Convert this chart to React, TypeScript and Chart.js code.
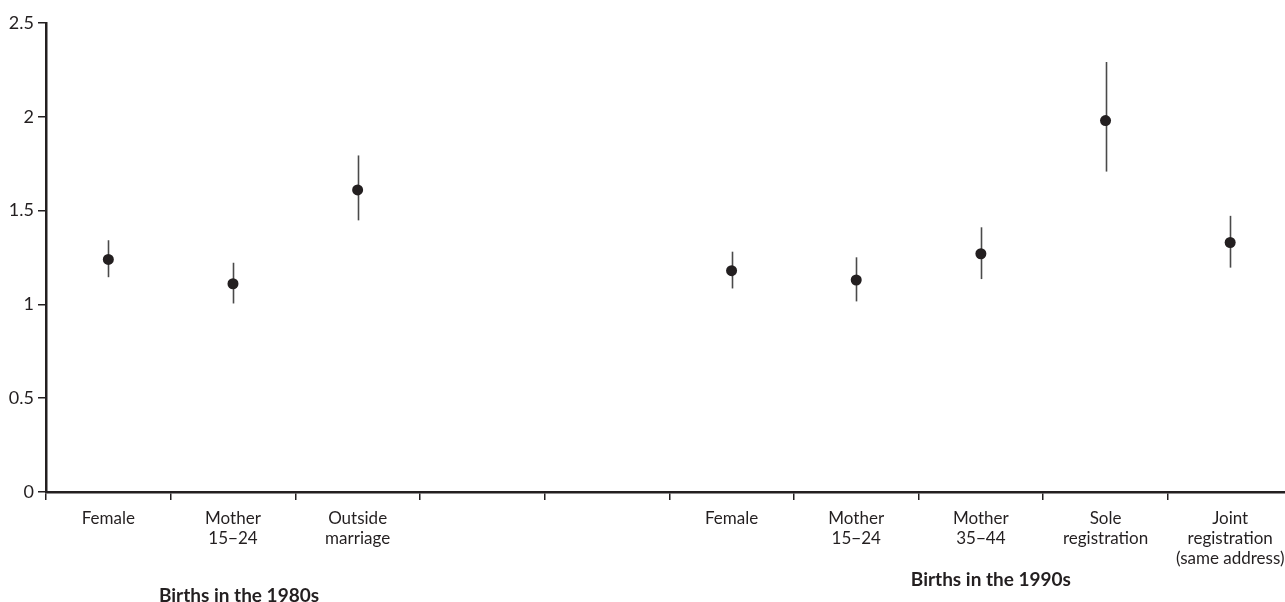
import React, { useEffect, useRef } from "react";
import { Chart, registerables } from "chart.js";

Chart.register(...registerables);

const categories: string[][] = [
  ["Female"],
  ["Mother", "15−24"],
  ["Outside", "marriage"],
  [""],
  [""],
  ["Female"],
  ["Mother", "15−24"],
  ["Mother", "35−44"],
  ["Sole", "registration"],
  ["Joint", "registration", "(same address)"],
];

const estimates: (number | null)[] = [1.24, 1.11, 1.61, null, null, 1.18, 1.13, 1.27, 1.98, 1.33];
const lowerCI: (number | null)[] = [1.145, 1.005, 1.448, null, null, 1.085, 1.016, 1.135, 1.708, 1.196];
const upperCI: (number | null)[] = [1.342, 1.222, 1.794, null, null, 1.281, 1.251, 1.411, 2.292, 1.472];

const yTicks = [0, 0.5, 1, 1.5, 2, 2.5];
const yTickLabels = ["0", "0.5", "1", "1.5", "2", "2.5"];

const groupLabels = ["Births in the 1980s", "Births in the 1990s"];

const INK = "#231f20";
const FONT = "Lato";

export default function App() {
  const ref = useRef<HTMLCanvasElement | null>(null);

  useEffect(() => {
    if (!ref.current) return;

    const errorBars = {
      id: "errorBars",
      beforeDatasetsDraw(chart: any) {
        const ctx = chart.ctx;
        const x = chart.scales.x;
        const y = chart.scales.y;
        ctx.save();
        ctx.strokeStyle = "#4a4a4a";
        ctx.lineWidth = 1.6;
        for (let i = 0; i < categories.length; i++) {
          const lo = lowerCI[i];
          const hi = upperCI[i];
          if (lo == null || hi == null) continue;
          const px = Math.round(x.getPixelForValue(i)) + 0.5;
          ctx.beginPath();
          ctx.moveTo(px, y.getPixelForValue(hi));
          ctx.lineTo(px, y.getPixelForValue(lo));
          ctx.stroke();
        }
        ctx.restore();
      },
    };

    const groupText = {
      id: "groupText",
      afterDraw(chart: any) {
        const ctx = chart.ctx;
        const x = chart.scales.x;
        ctx.save();
        ctx.fillStyle = INK;
        ctx.font = `bold 19px ${FONT}`;
        ctx.textAlign = "center";
        ctx.textBaseline = "middle";
        const c1 = (x.getPixelForValue(0) + x.getPixelForValue(2)) / 2 + 6;
        const c2 = x.getPixelForValue(7) + 10;
        ctx.fillText(groupLabels[0], c1, 588);
        ctx.fillText(groupLabels[1], c2, 572);
        ctx.restore();
      },
    };

    const chart = new Chart(ref.current, {
      type: "line",
      data: {
        labels: categories,
        datasets: [
          {
            data: estimates,
            showLine: false,
            pointRadius: 5.5,
            pointBackgroundColor: INK,
            pointBorderColor: INK,
            pointBorderWidth: 0,
            spanGaps: false,
          },
        ],
      },
      options: {
        responsive: false,
        animation: false,
        events: [],
        layout: { padding: { top: 15, right: 3, left: 0, bottom: 0 } },
        plugins: {
          legend: { display: false },
          tooltip: { enabled: false },
        },
        scales: {
          x: {
            type: "category",
            offset: true,
            grid: {
              offset: true,
              drawOnChartArea: false,
              drawTicks: true,
              tickLength: 8,
              color: INK,
              lineWidth: 1.5,
            },
            border: { display: true, color: INK, width: 2.5 },
            ticks: {
              autoSkip: false,
              maxRotation: 0,
              minRotation: 0,
              padding: 8,
              color: INK,
              font: { family: FONT, size: 17, lineHeight: 1.2 },
            },
            afterFit(scale: any) {
              scale.height = 110;
            },
          },
          y: {
            type: "linear",
            min: 0,
            max: 2.5,
            afterBuildTicks(scale: any) {
              scale.ticks = yTicks.map((v) => ({ value: v }));
            },
            grid: {
              drawOnChartArea: false,
              drawTicks: true,
              tickLength: 8,
              color: INK,
              lineWidth: 1.5,
            },
            border: { display: true, color: INK, width: 2.5 },
            ticks: {
              padding: 4,
              color: INK,
              font: { family: FONT, size: 18 },
              callback: (v: any) => {
                const idx = yTicks.indexOf(Number(v));
                return idx >= 0 ? yTickLabels[idx] : "";
              },
            },
            afterFit(scale: any) {
              scale.width = 38;
            },
          },
        },
      },
      plugins: [errorBars, groupText],
    });

    return () => chart.destroy();
  }, []);

  return (
    <div
      style={{
        position: "fixed",
        left: 8,
        top: 8,
        width: 1277,
        height: 594,
        overflow: "hidden",
        background: "#fff",
      }}
    >
      <canvas ref={ref} width={1290} height={594} style={{ display: "block" }} />
    </div>
  );
}
